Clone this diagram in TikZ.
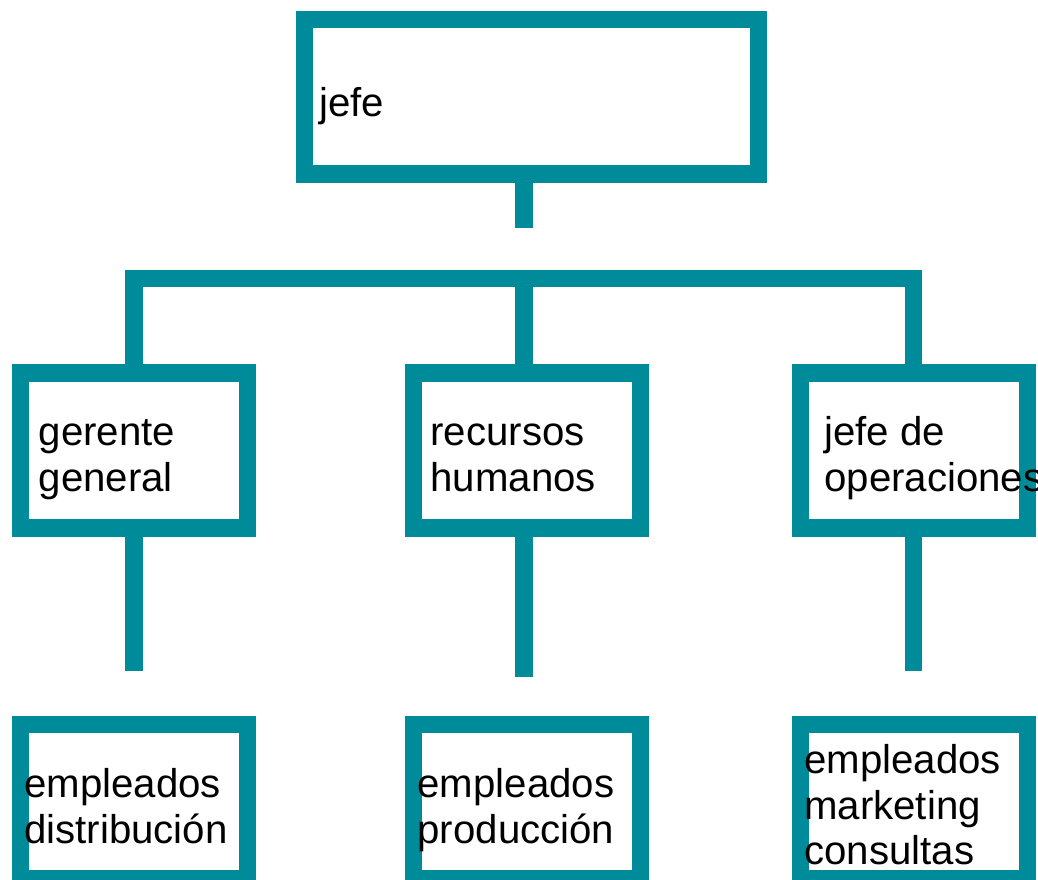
\documentclass[tikz,border=0pt]{standalone}
\usepackage{fontspec}
\setmainfont{Liberation Sans}
\definecolor{teal1}{RGB}{0,139,155}
\begin{document}
\begin{tikzpicture}[x=1pt,y=-1pt,
  box/.style={draw=teal1,line width=17.3pt,rectangle,inner sep=0pt,outer sep=0pt,
    minimum width=227pt,minimum height=155pt},
  conn/.style={draw=teal1,line width=17.3pt,line cap=butt,line join=miter},
  lbl/.style={anchor=base west,inner sep=0pt,outer sep=0pt,text=black},
]
\useasboundingbox (0,0) rectangle (1038,879);
\newcommand{\lines}[1]{\parbox[t]{300pt}{\fontsize{40.2}{45.5}\selectfont\raggedright #1}}
% boxes
\node[box,minimum width=454.4pt,minimum height=154.3pt] (jefe) at (531.5,96.9) {};
\node[box] (gg) at (133.9,450.5) {};
\node[box] (rh) at (527.2,450.5) {};
\node[box] (jo) at (913.8,450.5) {};
\node[box,minimum height=154.5pt] (ed) at (133.9,801.4) {};
\node[box,minimum height=154.5pt] (ep) at (527.2,801.4) {};
\node[box,minimum height=154.5pt] (em) at (913.8,801.4) {};
% connector coordinates
\coordinate (s0) at (524,227.7);
\coordinate (bar) at (0,278.8);
\coordinate (d1) at (133.9,671.3);
\coordinate (d2) at (524,677);
\coordinate (d3) at (913.8,671.3);
% connectors
\draw[conn] (jefe.south -| s0) -- (s0);
\draw[conn] (gg.north) -- (gg.north |- bar) -- (jo.north |- bar) -- (jo.north);
\draw[conn] (rh.north -| s0) -- (s0 |- bar);
\draw[conn] (gg.south) -- (d1);
\draw[conn] (rh.south -| d2) -- (d2);
\draw[conn] (jo.south) -- (d3);
% labels
\node[lbl] (tjefe) at (319.5,116.5) {\lines{jefe}};
\node[lbl] (tgg) at (38.8,445.5) {\lines{gerente\\general}};
\node[lbl] (trh) at (430.5,445.5) {\lines{recursos\\humanos}};
\node[lbl] (tjo) at (824.3,445.5) {\lines{jefe de\\operaciones}};
\node[lbl] (ted) at (24.3,797.5) {\lines{empleados\\distribución}};
\node[lbl] (tep) at (417.6,797.5) {\lines{empleados\\producción}};
\node[lbl] (tem) at (804.3,773.5) {\lines{empleados\\marketing\\consultas}};
\end{tikzpicture}
\end{document}
